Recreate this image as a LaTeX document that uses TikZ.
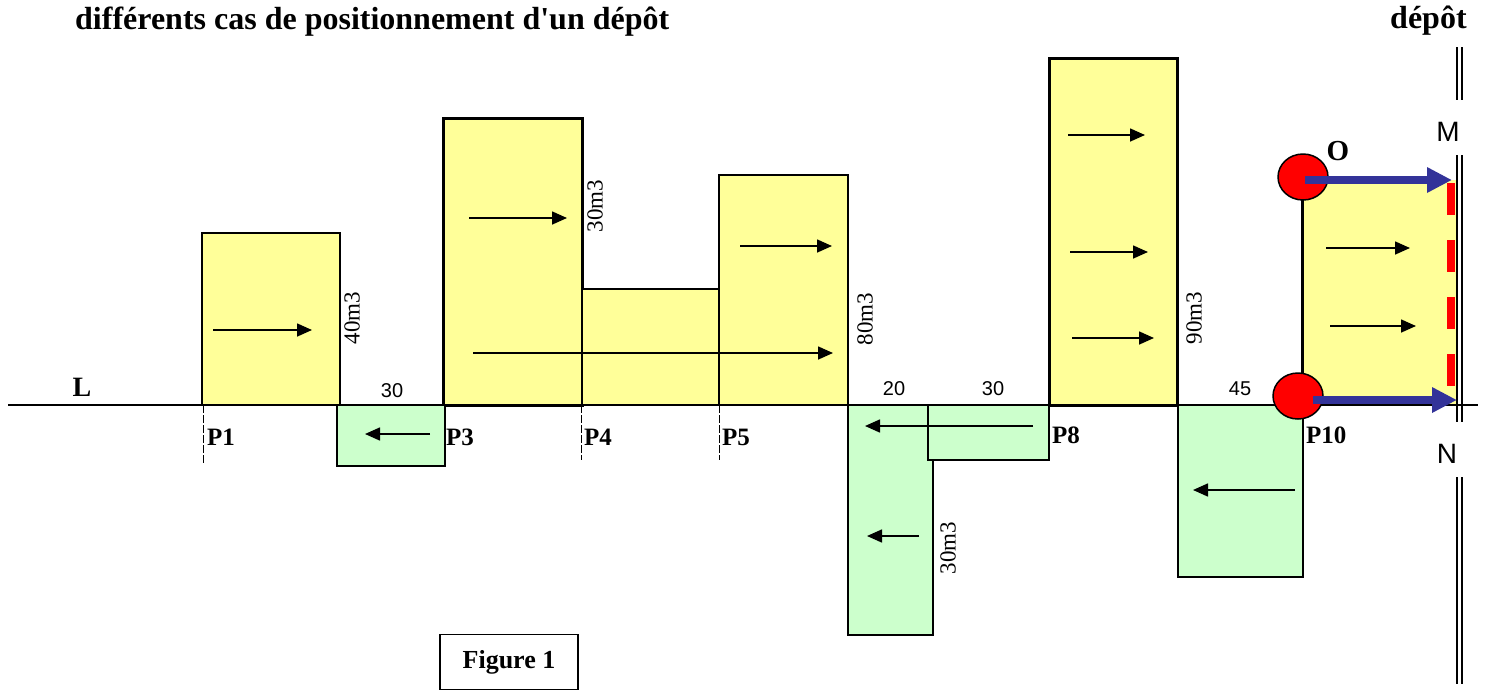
\documentclass[tikz,border=0pt]{standalone}
\usepackage{fontspec}
\setmainfont{Liberation Serif}[Ligatures=TeXOff]
\newfontfamily\sansf{Liberation Sans}
\usetikzlibrary{arrows.meta}
\definecolor{ylw}{RGB}{255,255,153}
\definecolor{grn}{RGB}{204,255,204}
\definecolor{navyb}{RGB}{51,51,153}
\begin{document}
\begin{tikzpicture}[x=1pt,y=-1pt,
 ybox/.style={fill=ylw,draw=black,line width=2pt},
 thickbox/.style={fill=ylw,draw=black,line width=3pt},
 gbox/.style={fill=grn,draw=black,line width=1.8pt},
 flow/.style={line width=1.6pt,-{Triangle[length=15pt,width=13pt]}},
 bflow/.style={navyb,line width=8pt,-{Triangle[length=25pt,width=24pt]}},
 tickline/.style={line width=0.7pt,dash pattern=on 8pt off 2pt},
 plab/.style={font=\fontsize{25}{25}\selectfont\bfseries,anchor=base west,inner sep=0},
 num/.style={font=\sansf\fontsize{20}{20}\selectfont,anchor=base,inner sep=0},
 vol/.style={font=\fontsize{23}{23}\selectfont,rotate=90,inner sep=0},
 sidelab/.style={font=\sansf\fontsize{28}{28}\selectfont,inner sep=0},
 dep/.style={line width=1.3pt}
 ]
\useasboundingbox (0,0) rectangle (1485,691);

% title
\node[font=\fontsize{32}{32}\selectfont\bfseries,anchor=base west,inner sep=0] (title) at (75,29) {différents cas de positionnement d'un dépôt};
\node[font=\fontsize{32}{32}\selectfont\bfseries,anchor=base west,inner sep=0] (depot) at (1390,28) {dépôt};

% yellow boxes (remblais)
\draw[ybox] (202,233) rectangle (340,405);
\draw[thickbox] (443,118) rectangle (582,405);
\draw[ybox] (582,289) rectangle (719,405);
\draw[ybox] (719,175) rectangle (848,405);
\draw[thickbox] (1049,58) rectangle (1177,405);
\fill[ylw] (1302,180) rectangle (1456,405);
\draw[line width=3pt] (1302,180) -- (1302,405);
\draw[red,line width=8pt,dash pattern=on 32pt off 25pt] (1451,183) -- (1451,405);

% green boxes (deblais)
\draw[gbox] (337,405) rectangle (445,466);
\draw[gbox] (848,405) rectangle (933,635);
\draw[gbox] (928,405) rectangle (1049,460);
\draw[gbox] (1178,405) rectangle (1303,577);

% base line
\draw[line width=2.2pt] (8,405) -- (1478,405);

% depot double line
\foreach \xx in {1457,1462}{
  \draw[dep] (\xx,47) -- (\xx,100);
  \draw[dep] (\xx,155) -- (\xx,422);
  \draw[dep] (\xx,477) -- (\xx,684);
}

% ticks
\draw[tickline] (203,405) -- (203,463);
\draw[tickline] (581,405) -- (581,460);
\draw[tickline] (719,405) -- (719,460);

% arrows
\draw[flow] (213,330) -- (312,330);
\draw[flow] (430,434) -- (365,434);
\draw[flow] (469,218) -- (567,218);
\draw[flow] (473,353) -- (833,353);
\draw[flow] (740,246) -- (832,246);
\draw[flow] (1033,426) -- (865,426);
\draw[flow] (919,536) -- (867,536);
\draw[flow] (1068,135) -- (1145,135);
\draw[flow] (1070,252) -- (1148,252);
\draw[flow] (1072,338) -- (1154,338);
\draw[flow] (1295,490) -- (1193,490);
\draw[flow] (1326,248) -- (1410,248);
\draw[flow] (1330,326) -- (1416,326);

% red circles and blue arrows
\draw[fill=red,line width=1.5pt] (1303,177) ellipse [x radius=25, y radius=23];
\draw[fill=red,line width=1.5pt] (1298,396) ellipse [x radius=25, y radius=23];
\draw[bflow] (1305,180) -- (1452,180);
\draw[bflow] (1313,400) -- (1457,400);

% labels
\node[font=\fontsize{28}{28}\selectfont\bfseries,anchor=base,inner sep=0] (L) at (82,396) {L};
\node[plab] (p1) at (207,445) {P1};
\node[plab] (p3) at (446,445) {P3};
\node[plab] (p4) at (584,445) {P4};
\node[plab] (p5) at (722,445) {P5};
\node[plab] (p8) at (1052,443) {P8};
\node[plab] (p10) at (1306,443) {P10};
\node[num] (n30a) at (392,397) {30};
\node[num] (n20) at (894,395) {20};
\node[num] (n30b) at (993,395) {30};
\node[num] (n45) at (1240,395) {45};
\node[vol] (v40) at (352,318) {40m3};
\node[vol] (v30a) at (595,206) {30m3};
\node[vol] (v80) at (865,319) {80m3};
\node[vol] (v30b) at (948,548) {30m3};
\node[vol] (v90) at (1194,318) {90m3};
\node[font=\fontsize{29}{29}\selectfont\bfseries,inner sep=0] (O) at (1338,151) {O};
\node[sidelab] (M) at (1448,132) {M};
\node[sidelab] (N) at (1447,454) {N};
\node[draw,line width=1.5pt,minimum width=138,minimum height=55,inner sep=0,font=\fontsize{26}{26}\selectfont\bfseries] (fig) at (509,662) {Figure 1};
\end{tikzpicture}
\end{document}
